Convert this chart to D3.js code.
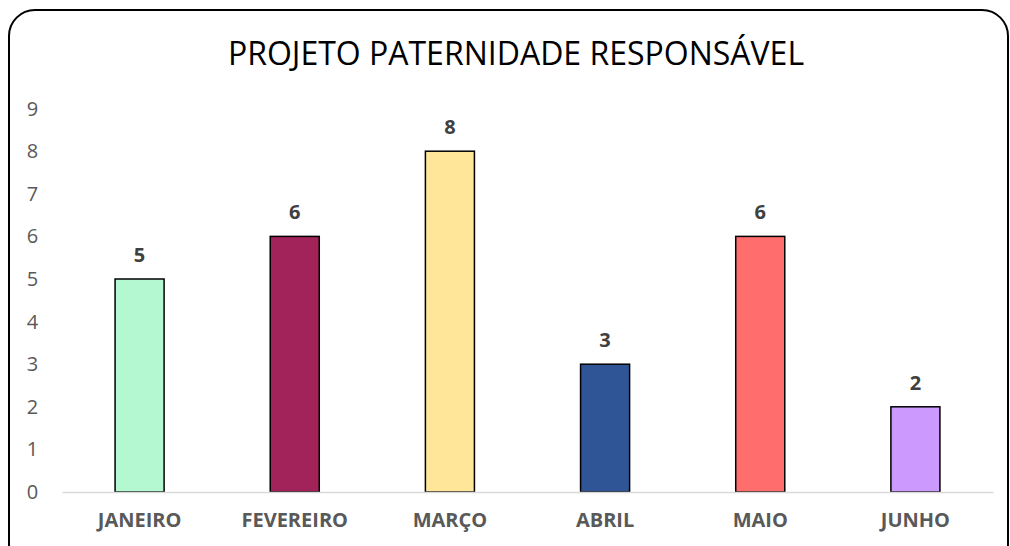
<!DOCTYPE html>
<html>
<head>
<meta charset="utf-8">
<script src="https://cdn.jsdelivr.net/npm/d3@7"></script>
<style>
  body { margin: 0; background: #fff; }
  svg { display: block; font-family: "Open Sans", sans-serif; }
</style>
</head>
<body>
<svg id="draw" width="1010" height="546"></svg>
<script>
// chart data
var months = ["JANEIRO", "FEVEREIRO", "MARÇO", "ABRIL", "MAIO", "JUNHO"];
var values = [5, 6, 8, 3, 6, 2];
var barColors = ["#b4f8d1", "#a2225a", "#ffe699", "#2f5597", "#ff6d6d", "#cc99ff"];
var yTicks = [0, 1, 2, 3, 4, 5, 6, 7, 8, 9];
var title = "PROJETO PATERNIDADE RESPONSÁVEL";

var data = months.map(function(m, i) {
  return { month: m, value: values[i], color: barColors[i] };
});

var svg = d3.select("#draw");

// outer frame with rounded corners
svg.append("rect")
  .attr("x", 9).attr("y", 10)
  .attr("width", 999).attr("height", 560)
  .attr("rx", 26).attr("ry", 26)
  .attr("fill", "#fff")
  .attr("stroke", "#000")
  .attr("stroke-width", 2);

svg.append("text")
  .attr("x", 516).attr("y", 65)
  .attr("text-anchor", "middle")
  .attr("font-size", 32)
  .attr("fill", "#000")
  .text(title);

var plotLeft = 62, plotRight = 993, plotTop = 108.6, plotBottom = 492;

var xScale = d3.scaleBand()
  .domain(months)
  .range([plotLeft, plotRight])
  .paddingInner(0.684)
  .paddingOuter(0.342);

var yScale = d3.scaleLinear()
  .domain([0, 9])
  .range([plotBottom, plotTop]);

// y labels (no axis line)
var yAxis = svg.append("g")
  .attr("transform", "translate(" + plotLeft + ",0)")
  .call(d3.axisLeft(yScale).tickValues(yTicks).tickSize(0).tickPadding(0));
yAxis.select(".domain").remove();
yAxis.selectAll("text")
  .attr("font-family", "Open Sans, sans-serif")
  .attr("font-size", 20)
  .attr("fill", "#595959")
  .attr("text-anchor", "middle")
  .attr("x", 32.5 - plotLeft);

// bars
svg.selectAll(".bar")
  .data(data)
  .enter().append("rect")
  .attr("class", "bar")
  .attr("x", function(d) { return xScale(d.month); })
  .attr("y", function(d) { return yScale(d.value); })
  .attr("width", xScale.bandwidth())
  .attr("height", function(d) { return plotBottom - yScale(d.value); })
  .attr("fill", function(d) { return d.color; })
  .attr("stroke", "#000")
  .attr("stroke-width", 1.5);

// x axis baseline + labels
var xAxis = svg.append("g")
  .attr("transform", "translate(0," + plotBottom + ")")
  .call(d3.axisBottom(xScale).tickSize(0).tickPadding(21));
xAxis.select(".domain")
  .attr("stroke", "#d9d9d9")
  .attr("stroke-width", 1.5);
xAxis.selectAll("text")
  .attr("font-family", "Open Sans, sans-serif")
  .attr("font-size", 20)
  .attr("font-weight", "bold")
  .attr("fill", "#595959");

// value labels
svg.selectAll(".val")
  .data(data)
  .enter().append("text")
  .attr("class", "val")
  .attr("x", function(d) { return xScale(d.month) + xScale.bandwidth() / 2; })
  .attr("y", function(d) { return yScale(d.value) - 17; })
  .attr("text-anchor", "middle")
  .attr("font-size", 20)
  .attr("font-weight", "bold")
  .attr("fill", "#404040")
  .text(function(d) { return d.value; });
</script>
</body>
</html>
